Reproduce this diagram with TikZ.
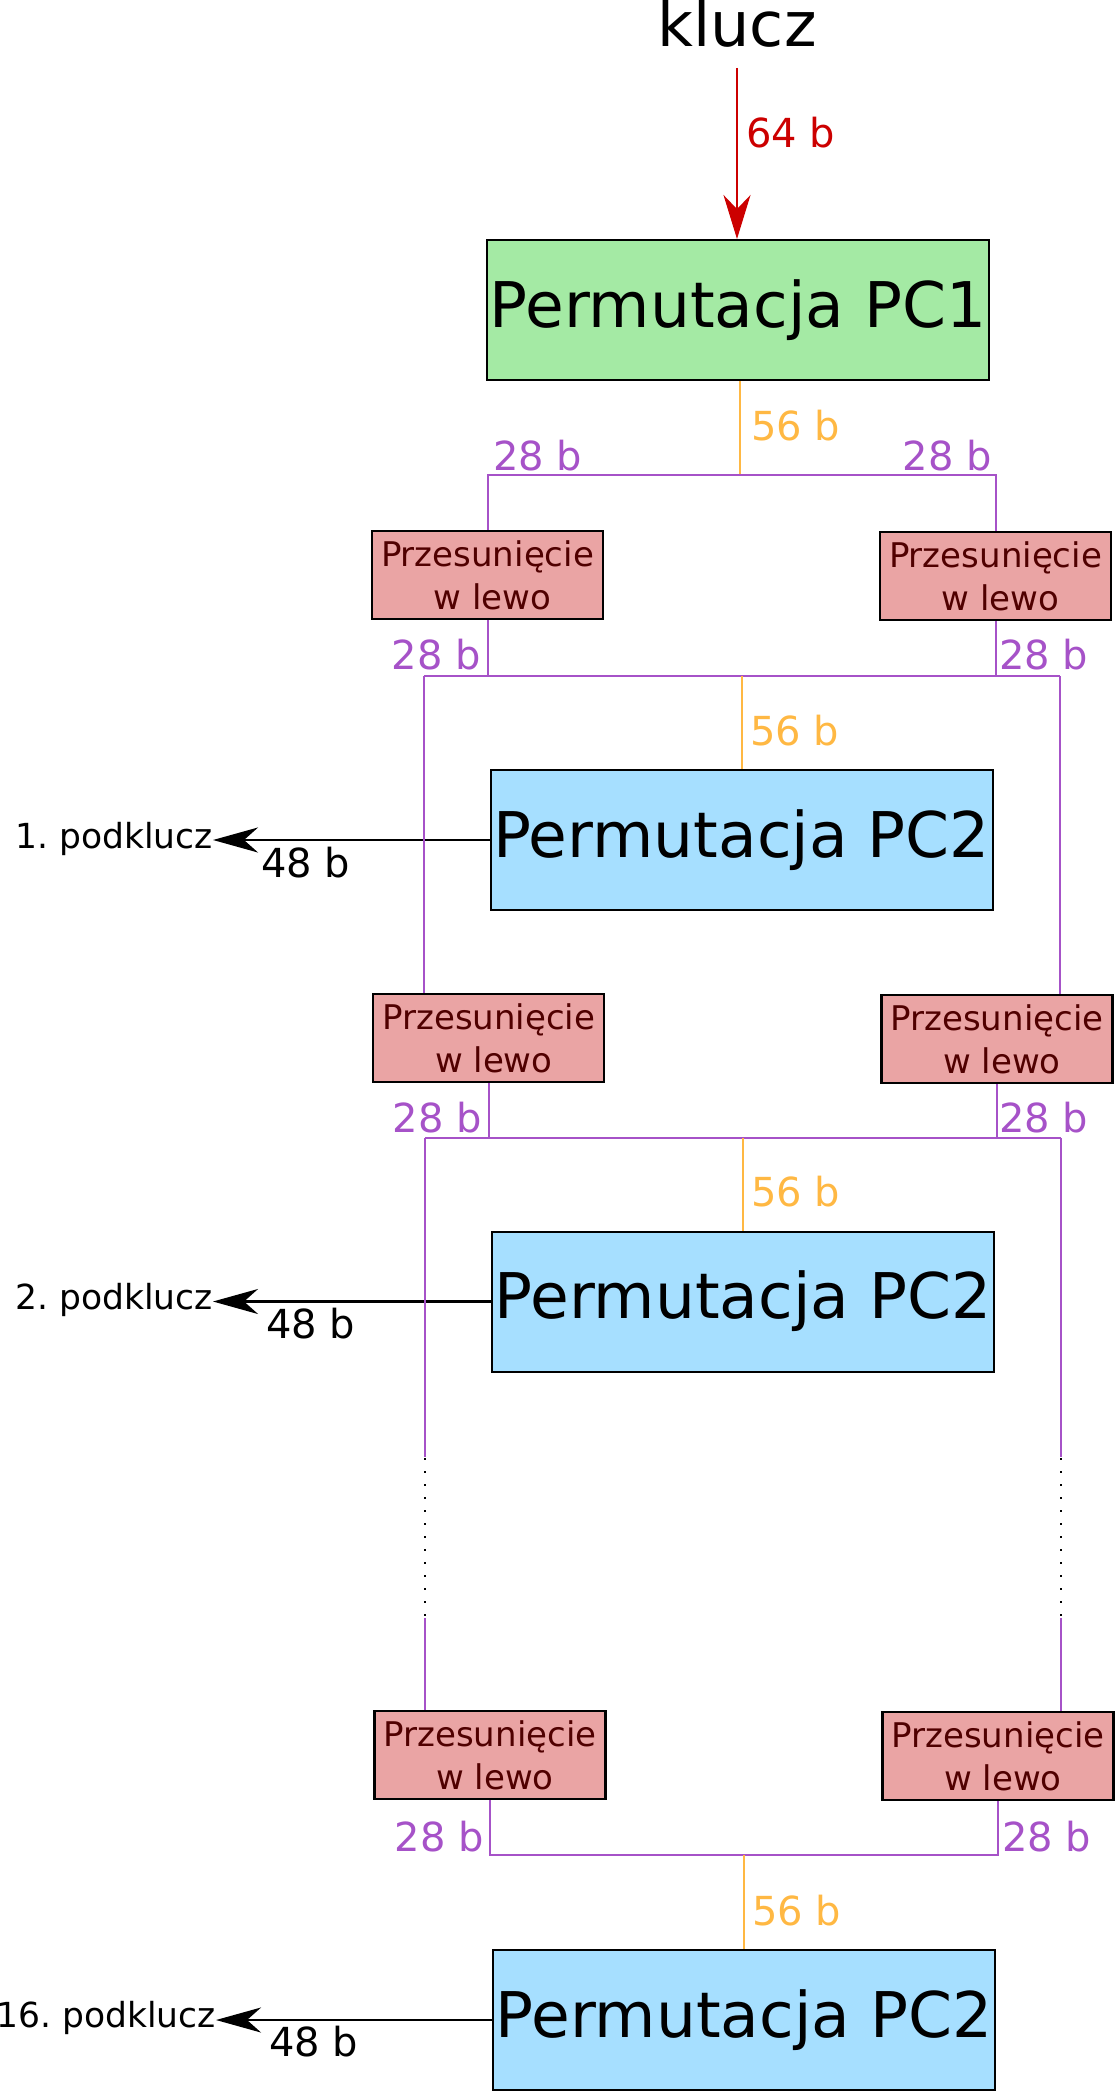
\documentclass[tikz,border=0pt]{standalone}
\usepackage{fontspec}
\setmainfont{DejaVu Sans}
\usetikzlibrary{arrows.meta}
\definecolor{pcgreen}{HTML}{A4EAA4}
\definecolor{pcblue}{HTML}{A6DFFF}
\definecolor{shiftpink}{HTML}{EAA4A4}
\definecolor{shifttext}{HTML}{500000}
\definecolor{bitorange}{HTML}{FFB843}
\definecolor{bitpurple}{HTML}{A652C8}
\definecolor{keyred}{HTML}{CC0000}
\frenchspacing
\newcommand{\shifttxt}{Przesunięcie\\\hspace*{10pt}w lewo}
\begin{document}
\begin{tikzpicture}[x=1pt,y=-1pt,
  pcbox/.style={draw=black, line width=2pt, minimum width=502pt, minimum height=140pt, inner sep=0pt, font=\fontsize{63}{72}\selectfont},
  shiftbox/.style={draw=black, line width=2.2pt, fill=shiftpink, text=shifttext, minimum width=231pt, minimum height=88pt, inner sep=0pt, align=center, font=\fontsize{34}{43}\selectfont},
  purplebits/.style={text=bitpurple, inner sep=0pt, font=\fontsize{40}{48}\selectfont},
  orangebits/.style={text=bitorange, inner sep=0pt, font=\fontsize{40}{48}\selectfont},
  blackbits/.style={text=black, inner sep=0pt, font=\fontsize{40}{48}\selectfont},
  sublabel/.style={inner sep=0pt, anchor=base east, font=\fontsize{34.5}{40}\selectfont},
  halfline/.style={draw=bitpurple, line width=2pt},
  fullline/.style={draw=bitorange, line width=2pt},
  keyarrow/.style={draw=keyred, line width=2pt, -{Stealth[length=44pt, width=27pt, inset=14pt]}},
  outarrow/.style={draw=black, line width=2.5pt, -{Stealth[length=45pt, width=25pt, inset=14pt]}},
  dotline/.style={draw=black, line width=2pt, dash pattern=on 2pt off 11pt}
]
\useasboundingbox (0,0) rectangle (1115,2092);

% --- key and PC1 ---
\node[anchor=base, inner sep=0pt, font=\fontsize{62}{72}\selectfont] (klucz) at (737,47) {klucz};
\node[pcbox, fill=pcgreen] (pc1) at (738,310) {Permutacja PC1};
\coordinate (kstart) at (737,68);
\draw[keyarrow] (kstart) -- (kstart |- pc1.north);
\node[anchor=base west, inner sep=0pt, text=keyred, font=\fontsize{40}{48}\selectfont] (l64) at (746,148) {64 b};

% --- row A shifts ---
\node[shiftbox] (sl1) at (487.5,575) {\shifttxt};
\node[shiftbox] (sr1) at (995.5,576) {\shifttxt};
\coordinate (s1) at (740,475);
\draw[fullline] (s1 |- pc1.south) -- (s1);
\draw[halfline] (sl1.north) -- (sl1.north |- s1) -- (sr1.north |- s1) -- (sr1.north);
\node[orangebits, anchor=base west] (o1) at (751,440) {56 b};
\node[purplebits, anchor=base west] (p1l) at (493,470) {28 b};
\node[purplebits, anchor=base east] (p1r) at (992,470) {28 b};

% --- merge A and PC2 #1 ---
\node[pcbox, fill=pcblue] (pc2a) at (741.5,840) {Permutacja PC2};
\coordinate (m1) at (741.5,676);
\coordinate (m1l) at (424,676);
\coordinate (m1r) at (1060,676);
\draw[halfline] (sl1.south) -- (sl1.south |- m1);
\draw[halfline] (sr1.south) -- (sr1.south |- m1);
\draw[halfline] (m1l) -- (m1r);
\draw[fullline] (m1) -- (m1 |- pc2a.north);
\node[orangebits, anchor=base west] (o2) at (750,745) {56 b};
\node[purplebits, anchor=base east] (p2l) at (481,669) {28 b};
\node[purplebits, anchor=base west] (p2r) at (999,669) {28 b};
\node[sublabel] (k1) at (213,848) {1. podklucz};
\draw[outarrow] (pc2a.west) -- (k1.east |- pc2a.west);
\node[blackbits, anchor=base west] (b1) at (261,877) {48 b};

% --- row B shifts ---
\node[shiftbox] (sl2) at (488.8,1038) {\shifttxt};
\node[shiftbox] (sr2) at (997,1039) {\shifttxt};
\draw[halfline] (m1l) -- (m1l |- sl2.north);
\draw[halfline] (m1r) -- (m1r |- sr2.north);

% --- merge B and PC2 #2 ---
\node[pcbox, fill=pcblue] (pc2b) at (743,1301.5) {Permutacja PC2};
\coordinate (m2) at (743,1138);
\coordinate (m2l) at (425,1138);
\coordinate (m2r) at (1061,1138);
\draw[halfline] (sl2.south) -- (sl2.south |- m2);
\draw[halfline] (sr2.south) -- (sr2.south |- m2);
\draw[halfline] (m2l) -- (m2r);
\draw[fullline] (m2) -- (m2 |- pc2b.north);
\node[orangebits, anchor=base west] (o3) at (751,1206) {56 b};
\node[purplebits, anchor=base east] (p3l) at (482,1132) {28 b};
\node[purplebits, anchor=base west] (p3r) at (999,1132) {28 b};
\node[sublabel] (k2) at (213,1309) {2. podklucz};
\draw[outarrow] (pc2b.west) -- (k2.east |- pc2b.west);
\node[blackbits, anchor=base west] (b2) at (266,1338) {48 b};

% --- rails with dots ---
\node[shiftbox] (sl3) at (490,1755) {\shifttxt};
\node[shiftbox] (sr3) at (998,1756) {\shifttxt};
\coordinate (dl1) at (425,1457);
\coordinate (dl2) at (425,1618);
\coordinate (dr1) at (1061,1457);
\coordinate (dr2) at (1061,1618);
\draw[halfline] (m2l) -- (dl1);
\draw[halfline] (m2r) -- (dr1);
\draw[dotline] (425,1458) -- (425,1616);
\draw[dotline] (1061,1458) -- (1061,1616);
\draw[halfline] (dl2) -- (dl2 |- sl3.north);
\draw[halfline] (dr2) -- (dr2 |- sr3.north);

% --- merge C and PC2 #16 ---
\node[pcbox, fill=pcblue] (pc2c) at (744,2020) {Permutacja PC2};
\coordinate (m3) at (744,1855);
\draw[halfline] (sl3.south) -- (sl3.south |- m3) -- (sr3.south |- m3) -- (sr3.south);
\draw[fullline] (m3) -- (m3 |- pc2c.north);
\node[orangebits, anchor=base west] (o4) at (752,1925) {56 b};
\node[purplebits, anchor=base east] (p4l) at (484,1851) {28 b};
\node[purplebits, anchor=base west] (p4r) at (1002,1851) {28 b};
\node[sublabel] (k3) at (216,2027) {16. podklucz};
\draw[outarrow] (pc2c.west) -- (k3.east |- pc2c.west);
\node[blackbits, anchor=base west] (b3) at (269,2056) {48 b};
\end{tikzpicture}
\end{document}
